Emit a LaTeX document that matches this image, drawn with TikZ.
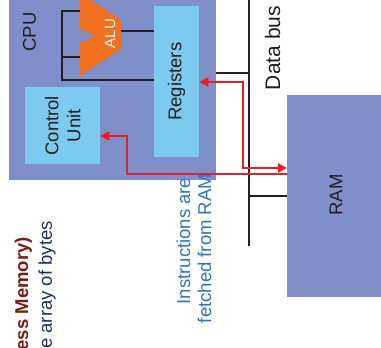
\documentclass[tikz,border=0pt]{standalone}
\usepackage{fontspec}
\setmainfont{Liberation Sans}
\usetikzlibrary{arrows.meta}
\definecolor{cpupurple}{RGB}{127,143,201}
\definecolor{boxblue}{RGB}{124,203,239}
\definecolor{aluorange}{RGB}{240,112,32}
\definecolor{arrred}{RGB}{236,28,36}
\definecolor{txtblue}{RGB}{46,117,190}
\definecolor{txtdarkred}{RGB}{123,28,18}
\definecolor{txtnavy}{RGB}{31,45,95}
\definecolor{wirek}{RGB}{35,31,32}
\tikzset{
  blockbox/.style={rectangle, inner sep=0pt, draw=none},
  lbl/.style={inner sep=0pt, rotate=90, text=wirek, font=\fontsize{18.5}{22}\selectfont, align=center},
  wire/.style={draw=wirek, line width=2.6pt},
  redline/.style={draw=arrred, line width=2.8pt, arrows={-Triangle[length=9pt,width=9pt]}},
  redline2/.style={draw=arrred, line width=2.8pt, arrows={Triangle[length=9pt,width=9pt]-Triangle[length=9pt,width=9pt]}},
}
\begin{document}
\begin{tikzpicture}[x=1pt,y=-1pt]
\useasboundingbox (0,0) rectangle (381,348);
\clip (0,0) rectangle (381,348);
% blocks
\node[blockbox, fill=cpupurple, minimum width=207pt, minimum height=192pt, anchor=south west] (cpu) at (9,180) {};
\node[blockbox, fill=boxblue, minimum width=45pt, minimum height=151pt, anchor=north west] (reg) at (154,6) {};
\node[blockbox, fill=boxblue, minimum width=75pt, minimum height=77pt, anchor=north west] (ctrl) at (25,87) {};
\node[blockbox, fill=cpupurple, minimum width=110pt, minimum height=202pt, anchor=north west] (ram) at (287,95) {};
% ALU
\fill[aluorange] (80,-7) -- (121,20) -- (121,49) -- (80,76) -- (80,43) -- (95,36) -- (80,29) -- cycle;
\node[lbl, text=white, font=\fontsize{15}{18}\selectfont] (alulbl) at (110,33.5) {ALU};
% labels
\node[lbl] (cpulbl) at (29.5,32) {CPU};
\node[lbl] (reglbl) at (reg.center) {Registers};
\node[lbl] (ctrllbl) at (ctrl.center) {Control\\Unit};
\node[lbl] (ramlbl) at (336,195) {RAM};
\node[lbl, font=\fontsize{21}{24}\selectfont] (buslbl) at (272.5,48) {Data bus};
\node[lbl, anchor=base, text=txtblue] (fetch1) at (190,241) {Instructions are};
\node[lbl, anchor=base, text=txtblue] (fetch2) at (211,248.5) {fetched from RAM};
\node[lbl, anchor=base east, text=txtdarkred, font=\fontsize{18.5}{22}\selectfont\bfseries] (memlbl) at (28,237) {ess Memory)};
\node[lbl, anchor=base east, text=txtnavy] (arrlbl) at (52,221) {e array of bytes};
% ALU wiring
\coordinate (aluA) at (80,11);
\coordinate (aluB) at (80,57);
\coordinate (aluOut) at (121,31);
\coordinate (brTop) at (62,11);
\coordinate (brBot) at (62,80);
\draw[wire] (aluA) -- (brTop) -- (brBot) -- (brBot -| reg.west);
\draw[wire] (aluB) -- (aluB -| brTop);
\draw[wire] (aluOut) -- (aluOut -| reg.west);
% data bus
\coordinate (busTop) at (249,-3);
\coordinate (busBot) at (249,246);
\coordinate (busA) at (249,73);
\coordinate (busB) at (249,196);
\draw[wire] (busTop) -- (busBot);
\draw[wire] (cpu.east |- busA) -- (busA);
\draw[wire] (busB) -- (ram.west |- busB);
% red arrows
\coordinate (k1) at (127,174);
\coordinate (k2) at (127,136);
\draw[redline] (ram.west |- k1) -- (k1) -- (k2) -- (ctrl.east |- k2);
\coordinate (m1) at (243,82);
\coordinate (m2) at (243,168);
\draw[redline2] (reg.east |- m1) -- (m1) -- (m2) -- (ram.west |- m2);
\end{tikzpicture}
\end{document}
